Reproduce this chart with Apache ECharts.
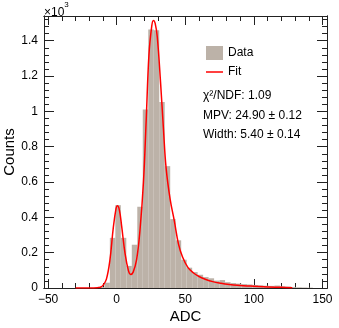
<!DOCTYPE html>
<html style="height: 100%">
<head>
<meta charset="utf-8">
<script type="text/javascript" src="https://cdn.jsdelivr.net/npm/echarts@6/dist/echarts.min.js"></script>
</head>
<body style="height: 100%; margin: 0; background: #fff">
<div id="container" style="width: 339px; height: 328px"></div>
<script type="text/javascript">
// histogram bins (lower edge, ADC) and contents in units of 10^3 counts
var binWidth = 4;
var binLow = [-13, -9, -5, -1, 3, 7, 11, 15, 19, 23, 27, 31, 35, 39, 43, 47, 51, 55, 59, 63,
              67, 71, 75, 79, 83, 87, 91, 95, 99, 103, 107, 111, 115, 119, 123, 127, 131, 135, 139];
var counts = [0.005, 0.03, 0.284, 0.469, 0.284, 0.125, 0.245, 0.46, 1.01, 1.464, 1.46, 1.053, 0.69, 0.39,
              0.27, 0.16, 0.115, 0.09, 0.075, 0.062, 0.055, 0.042, 0.045, 0.033, 0.028, 0.025, 0.022,
              0.02, 0.017, 0.015, 0.013, 0.012, 0.014, 0.01, 0.008, 0.005, 0.004, 0.003, 0.002];

// fit curve
var fitX = [-30, -20, -14, -12, -10, -7.5, -5, -2.5, -0.5, 0.5, 2, 3.6, 6, 8.5, 10.2, 12, 14.5, 17, 19.5,
            21.5, 23.5, 25.5, 26.7, 28, 29.6, 32, 34, 36, 39, 42, 45, 48, 52, 56, 60, 65, 70, 76, 82,
            88, 95, 100, 110, 120, 128];
var fitY = [0, 0.0005, 0.002, 0.004, 0.015, 0.05, 0.155, 0.34, 0.45, 0.465, 0.44, 0.35, 0.2, 0.1, 0.077,
            0.09, 0.16, 0.33, 0.6, 0.95, 1.32, 1.48, 1.515, 1.5, 1.42, 1.16, 0.91, 0.68, 0.5, 0.38, 0.25,
            0.175, 0.115, 0.085, 0.065, 0.048, 0.036, 0.027, 0.02, 0.015, 0.012, 0.01, 0.006, 0.004, 0.002];

var xMajor = [-50, 0, 50, 100, 150];
var yMajor = [0, 0.2, 0.4, 0.6, 0.8, 1, 1.2, 1.4];
var statLines = ['χ²/NDF: 1.09', 'MPV: 24.90 ± 0.12', 'Width: 5.40 ± 0.14'];

var xMinor = [];
for (var v = -50; v <= 150; v += 10) xMinor.push(v);
var yMinor = [];
for (var k = 0; k <= 38; k++) yMinor.push(Math.round(k * 4) / 100);

var font = 'Liberation Sans, Arial, Helvetica, sans-serif';
var axisCol = '#222';
var barCol = '#bcb2a8';

var histData = binLow.map(function (lo, i) { return [lo, lo + binWidth, counts[i]]; });
var fitData = fitX.map(function (x, i) { return [x, fitY[i]]; });

function xAx(pos, ticks, len, labels) {
  return {
    type: 'value', position: pos, min: -53, max: 153.3,
    axisLine: { show: true, onZero: false, lineStyle: { color: axisCol, width: 1 } },
    axisTick: { show: true, inside: true, length: len, customValues: ticks, lineStyle: { color: axisCol } },
    axisLabel: labels ? { show: true, customValues: xMajor, margin: 6, color: '#000', fontSize: 12, fontFamily: font,
      formatter: function (v) { return v < 0 ? '\u2212' + (-v) : '' + v; } } : { show: false },
    splitLine: { show: false }
  };
}
function yAx(pos, ticks, len, labels) {
  return {
    type: 'value', position: pos, min: 0, max: 1.54,
    axisLine: { show: true, onZero: false, lineStyle: { color: axisCol, width: 1 } },
    axisTick: { show: true, inside: true, length: len, customValues: ticks, lineStyle: { color: axisCol } },
    axisLabel: labels ? { show: true, customValues: yMajor, margin: 6, color: '#000', fontSize: 12, fontFamily: font } : { show: false },
    splitLine: { show: false }
  };
}

var xa = xAx('bottom', xMajor, 9, true);
xa.name = 'ADC'; xa.nameLocation = 'middle'; xa.nameGap = 21; xa.nameMoveOverlap = false;
xa.nameTextStyle = { color: '#000', fontSize: 15, fontFamily: font };
var ya = yAx('left', yMajor, 10, true);
ya.name = 'Counts'; ya.nameLocation = 'middle'; ya.nameGap = 27; ya.nameMoveOverlap = false;
ya.nameTextStyle = { color: '#000', fontSize: 15, fontFamily: font };

var chart = echarts.init(document.getElementById('container'), null, { renderer: 'canvas' });
chart.setOption({
  animation: false,
  backgroundColor: '#fff',
  grid: { left: 44, right: 12, top: 16, bottom: 40, containLabel: false, outerBoundsMode: 'none' },
  xAxis: [xa, xAx('bottom', xMinor, 5, false), xAx('top', xMajor, 9, false), xAx('top', xMinor, 5, false)],
  yAxis: [ya, yAx('left', yMinor, 5, false), yAx('right', yMajor, 10, false), yAx('right', yMinor, 5, false)],
  legend: [
    { data: ['Data'], icon: 'rect', itemWidth: 17, itemHeight: 14, left: 206, top: 46, padding: 0, selectedMode: false,
      textStyle: { color: '#000', fontSize: 12, fontFamily: font } },
    { data: ['Fit'], icon: 'rect', itemWidth: 17, itemHeight: 1.5, left: 206, top: 66, padding: 0, selectedMode: false,
      textStyle: { color: '#000', fontSize: 12, fontFamily: font } }
  ],
  graphic: [
    { type: 'text', left: 44, top: 1, style: { text: '{a|×10}{b|3}', rich: {
      a: { fontSize: 12, fontFamily: font, fill: '#000', padding: [6, 0, 0, 0] },
      b: { fontSize: 8, fontFamily: font, fill: '#000', verticalAlign: 'top' } } } },
    { type: 'text', left: 203, top: 90, style: { text: statLines[0], fontSize: 12, fontFamily: font, fill: '#000' } },
    { type: 'text', left: 203, top: 110, style: { text: statLines[1], fontSize: 12, fontFamily: font, fill: '#000' } },
    { type: 'text', left: 203, top: 129, style: { text: statLines[2], fontSize: 12, fontFamily: font, fill: '#000' } }
  ],
  series: [
    {
      name: 'Data', type: 'custom', xAxisIndex: 0, yAxisIndex: 0,
      itemStyle: { color: barCol },
      encode: { x: [0, 1], y: 2 },
      data: histData,
      renderItem: function (params, api) {
        var p0 = api.coord([api.value(0), api.value(2)]);
        var p1 = api.coord([api.value(1), 0]);
        return { type: 'rect', shape: { x: p0[0], y: p0[1], width: p1[0] - p0[0], height: p1[1] - p0[1] },
          style: { fill: barCol } };
      }
    },
    {
      name: 'Fit', type: 'line', xAxisIndex: 0, yAxisIndex: 0, data: fitData,
      smooth: 0.4, showSymbol: false, symbol: 'none',
      itemStyle: { color: '#ff0000' },
      lineStyle: { color: '#ff0000', width: 1.5 }
    }
  ]
});
</script>
</body>
</html>
